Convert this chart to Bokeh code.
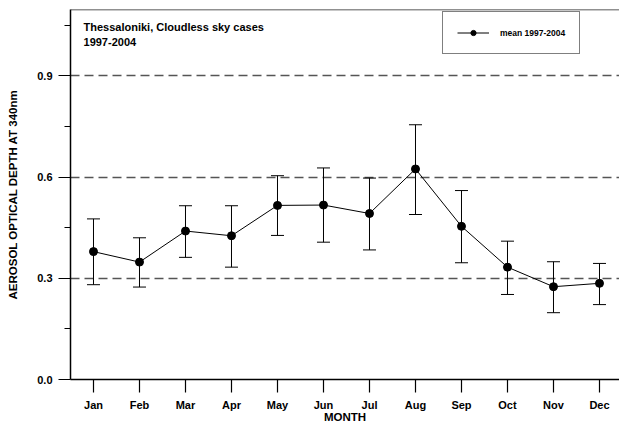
from bokeh.plotting import figure
from bokeh.models import (ColumnDataSource, Range1d, FixedTicker, Whisker, TeeHead,
                          Legend, LegendItem, Label, Span)
from bokeh.embed import file_html
from bokeh.resources import INLINE

months = ["Jan", "Feb", "Mar", "Apr", "May", "Jun", "Jul", "Aug", "Sep", "Oct", "Nov", "Dec"]
month_index = list(range(1, 13))
mean_aod = [0.379, 0.348, 0.440, 0.426, 0.516, 0.517, 0.492, 0.624, 0.454, 0.333, 0.275, 0.285]
upper_aod = [0.476, 0.420, 0.515, 0.515, 0.604, 0.627, 0.597, 0.755, 0.560, 0.410, 0.349, 0.344]
lower_aod = [0.281, 0.274, 0.362, 0.333, 0.427, 0.407, 0.384, 0.489, 0.346, 0.252, 0.198, 0.222]
y_ticks = [0.0, 0.3, 0.6, 0.9]
y_tick_labels = ["0.0", "0.3", "0.6", "0.9"]
y_minor = [0.15, 0.45, 0.75, 1.05]
grid_levels = [0.3, 0.6, 0.9]

FONT = "Liberation Sans"
Y_MAX = 1.0966
X_MIN, X_MAX = 0.5, 12.435

src = ColumnDataSource(dict(x=month_index, y=mean_aod, upper=upper_aod, lower=lower_aod))

p = figure(width=619, height=425, output_backend="svg", toolbar_location=None,
           x_range=Range1d(X_MIN, X_MAX), y_range=Range1d(0, Y_MAX),
           min_border_left=70, min_border_right=0, min_border_top=9, min_border_bottom=45)
p.outline_line_color = None
p.background_fill_color = "white"
p.border_fill_color = "white"

for ax in (p.xaxis[0], p.yaxis[0]):
    ax.axis_line_color = "black"
    ax.axis_line_width = 1.5
    ax.major_tick_line_color = "black"
    ax.major_tick_line_width = 1.2
    ax.minor_tick_line_color = "black"
    ax.minor_tick_line_width = 1.2
    ax.major_tick_in = 0
    ax.minor_tick_in = 0
    ax.major_label_text_font = FONT
    ax.major_label_text_font_style = "bold"
    ax.major_label_text_font_size = "11px"
    ax.major_label_text_color = "black"
    ax.axis_label_text_font = FONT
    ax.axis_label_text_font_style = "bold"
    ax.axis_label_text_font_size = "11.5px"
    ax.axis_label_text_color = "black"

xa = p.xaxis[0]
xa.ticker = FixedTicker(ticks=month_index)
xa.major_label_overrides = {i: m for i, m in zip(month_index, months)}
xa.major_tick_out = 13
xa.minor_tick_out = 0
xa.major_label_standoff = 6
xa.axis_label = "MONTH"
xa.axis_label_standoff = -3

ya = p.yaxis[0]
ya.ticker = FixedTicker(ticks=y_ticks, minor_ticks=y_minor)
ya.major_label_overrides = {v: s for v, s in zip(y_ticks, y_tick_labels)}
ya.major_tick_out = 12
ya.minor_tick_out = 6
ya.major_label_standoff = 6
ya.axis_label = "AEROSOL OPTICAL DEPTH AT 340nm"
ya.axis_label_standoff = 15

p.xgrid.grid_line_color = None
p.ygrid.ticker = FixedTicker(ticks=grid_levels)
p.ygrid.grid_line_color = "#555555"
p.ygrid.grid_line_width = 1.3
p.ygrid.grid_line_dash = "9 5"

# top border of the frame
p.add_layout(Span(location=Y_MAX, dimension="width", line_color="#222222", line_width=1.5))

p.add_layout(Whisker(source=src, base="x", upper="upper", lower="lower",
                     line_color="black", line_width=1,
                     upper_head=TeeHead(size=13, line_color="black", line_width=1),
                     lower_head=TeeHead(size=13, line_color="black", line_width=1)))

l = p.line("x", "y", source=src, line_color="black", line_width=1)
s = p.scatter("x", "y", source=src, size=8, fill_color="black", line_color="black")

legend = Legend(items=[LegendItem(label="mean 1997-2004", renderers=[l, s])],
                location=(372, 325), orientation="vertical",
                glyph_width=32, glyph_height=13, label_height=13, label_standoff=11,
                padding=14, margin=0, spacing=0,
                label_text_font=FONT, label_text_font_style="bold",
                label_text_font_size="8.5px", label_text_color="black",
                border_line_color="black", border_line_width=1,
                background_fill_alpha=1.0)
p.add_layout(legend, "center")

for txt, yy in [("Thessaloniki, Cloudless sky cases", 1.044), ("1997-2004", 1.000)]:
    p.add_layout(Label(x=0.783, y=yy, text=txt, text_font=FONT, text_font_style="bold",
                       text_font_size="11px", text_color="black", text_baseline="middle",
                       text_align="left"))

open("out.html", "w").write(file_html(p, INLINE))
